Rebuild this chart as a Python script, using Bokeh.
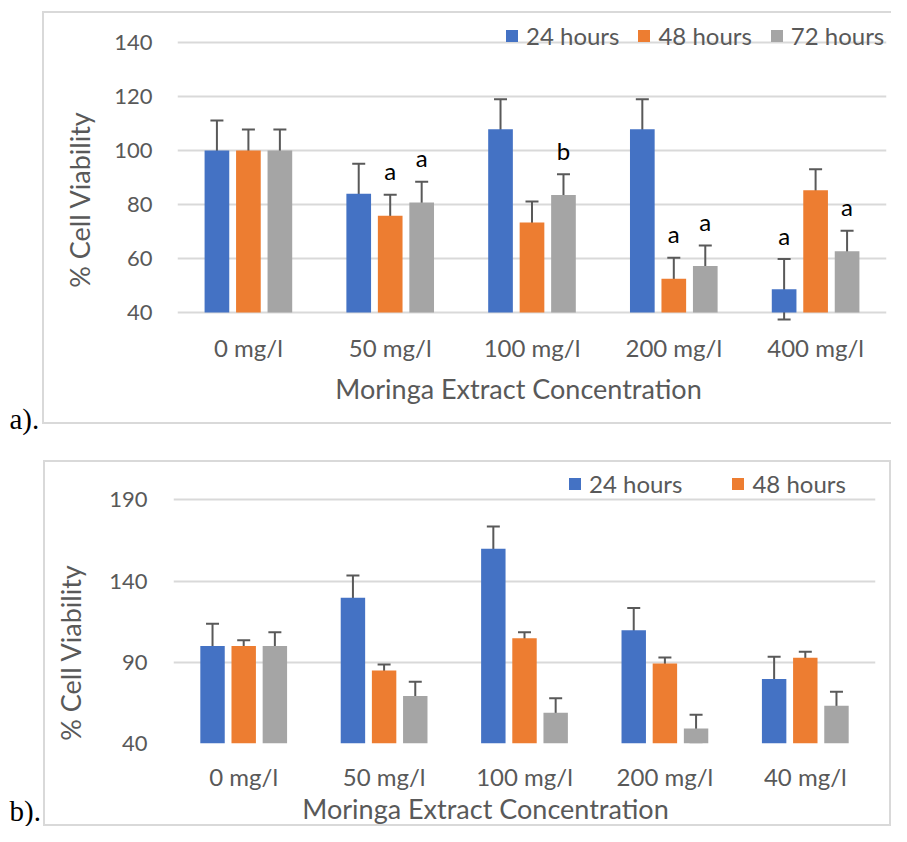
import math
from bokeh.plotting import figure
from bokeh.models import (ColumnDataSource, FactorRange, Range1d, FixedTicker, Whisker, TeeHead,
                          Legend, LegendItem, Label)
from bokeh.transform import dodge
from bokeh.layouts import column, row
from bokeh.embed import file_html
from bokeh.resources import INLINE
from bokeh.core.properties import value

# ---------------- Data: panel a ----------------
cats_a = ["0 mg/l", "50 mg/l", "100 mg/l", "200 mg/l", "400 mg/l"]
a_24 = [100, 84.0, 107.9, 107.9, 48.6]
a_48 = [100, 75.8, 73.3, 52.5, 85.3]
a_72 = [100, 80.7, 83.5, 57.2, 62.7]
a_err_24 = [11.1, 11.1, 11.1, 11.1, 11.2]
a_err_48 = [7.8, 7.8, 7.8, 7.8, 7.8]
a_err_72 = [7.8, 7.7, 7.7, 7.6, 7.6]
a_sig_24 = ["", "", "", "", "a"]
a_sig_48 = ["", "a", "", "a", ""]
a_sig_72 = ["", "a", "b", "a", "a"]
a_yticks = [40, 60, 80, 100, 120, 140]

# ---------------- Data: panel b ----------------
cats_b = ["0 mg/l", "50 mg/l", "100 mg/l", "200 mg/l", "40 mg/l"]
b_24 = [100, 129.8, 159.9, 109.8, 79.7]
b_48 = [100, 85.0, 104.8, 89.3, 92.8]
b_72 = [100, 69.3, 59.0, 49.2, 63.3]
b_err_24 = [13.8, 13.7, 13.7, 13.7, 13.7]
b_err_48 = [3.6, 3.7, 3.7, 3.7, 3.7]
b_err_72 = [8.6, 8.7, 8.8, 8.5, 8.6]
b_sig = ["", "", "", "", ""]
b_yticks = [40, 90, 140, 190]

series_names = ["24 hours", "48 hours", "72 hours"]
colors = ["#4472C4", "#ED7D31", "#A5A5A5"]
offsets = [-0.222, 0.0, 0.222]

TXT = "#595959"
GRID = "#D9D9D9"
FONT = "Lato"
STRIP_W = 100
CHART_W = 791


def box_css(lines):
    g = "linear-gradient(%s, %s)" % (GRID, GRID)
    return {
        "background-image": ", ".join([g] * len(lines)),
        "background-position": ", ".join("%dpx %dpx" % (l[0], l[1]) for l in lines),
        "background-size": ", ".join("%dpx %dpx" % (l[2], l[3]) for l in lines),
        "background-repeat": "no-repeat",
    }


def strip(height, ytitle_xy, tag, tag_xy):
    s = figure(width=STRIP_W, height=height, x_range=Range1d(0, 1), y_range=Range1d(0, 1),
               output_backend="svg", toolbar_location=None, min_border=0,
               x_axis_location=None, y_axis_location=None)
    s.grid.visible = False
    s.outline_line_color = None
    s.background_fill_color = None
    s.border_fill_color = None
    s.add_layout(Label(x=ytitle_xy[0], y=ytitle_xy[1], x_units="canvas", y_units="canvas",
                       text="% Cell Viability", angle=math.pi / 2, text_align="center",
                       text_baseline="middle", text_font=FONT, text_font_size="27px",
                       text_color=TXT))
    s.add_layout(Label(x=tag_xy[0], y=tag_xy[1], x_units="canvas", y_units="canvas",
                       text=tag, text_align="left", text_baseline="middle",
                       text_font="Liberation Serif", text_font_size="29px", text_color="black"),
                 "below")
    return s


def chart(cats, vals, errs, sigs, yr, yticks, height, borders, legend_n, legend_loc,
          legend_spacing, xtitle_xy, ystand, xstand):
    p = figure(width=CHART_W, height=height, x_range=FactorRange(factors=cats),
               y_range=Range1d(*yr), output_backend="svg", toolbar_location=None,
               min_border_left=borders[0], min_border_right=borders[1],
               min_border_top=borders[2], min_border_bottom=borders[3])
    p.outline_line_color = None
    p.background_fill_color = None
    p.border_fill_color = None
    p.xgrid.grid_line_color = None
    p.ygrid.grid_line_color = GRID
    p.ygrid.grid_line_width = 2
    p.yaxis.ticker = FixedTicker(ticks=yticks)
    for ax in (p.xaxis, p.yaxis):
        ax.axis_line_color = None
        ax.major_tick_line_color = None
        ax.minor_tick_line_color = None
        ax.major_tick_out = 0
        ax.major_tick_in = 0
        ax.major_label_text_font = FONT
        ax.major_label_text_color = TXT
    p.yaxis.major_label_text_font_size = "22px"
    p.xaxis.major_label_text_font_size = "24px"
    p.yaxis.major_label_standoff = ystand
    p.xaxis.major_label_standoff = xstand

    renderers = []
    for i in range(len(vals)):
        v = vals[i]
        e = errs[i]
        src = ColumnDataSource(dict(
            cat=cats, val=v,
            upper=[a + b for a, b in zip(v, e)],
            lower=[a - b for a, b in zip(v, e)],
            sig=sigs[i]))
        xd = dodge("cat", offsets[i], range=p.x_range)
        r = p.vbar(x=xd, top="val", bottom=yticks[0], width=0.174, source=src,
                   fill_color=colors[i], line_color=None)
        renderers.append(r)
        wh = Whisker(source=src, base=dodge("cat", offsets[i], range=p.x_range),
                     upper="upper", lower="lower",
                     line_color="#595959", line_width=2,
                     upper_head=TeeHead(size=13, line_color="#595959", line_width=2),
                     lower_head=TeeHead(size=13, line_color="#595959", line_width=2))
        p.add_layout(wh)
        p.text(x=dodge("cat", offsets[i], range=p.x_range), y="upper", text="sig", source=src,
               text_align="center", text_baseline="alphabetic", y_offset=-24,
               text_font=value(FONT), text_font_size="24px", text_color="black")

    items = [LegendItem(label=series_names[i], renderers=[renderers[i]]) for i in range(legend_n)]
    leg = Legend(items=items, orientation="horizontal", location=legend_loc,
                 glyph_width=15, glyph_height=15, label_standoff=7, spacing=legend_spacing,
                 padding=0, margin=0, border_line_color=None, background_fill_alpha=0,
                 label_text_font=FONT, label_text_font_size="24px", label_text_color=TXT)
    p.add_layout(leg)

    p.add_layout(Label(x=xtitle_xy[0], y=xtitle_xy[1], x_units="canvas", y_units="canvas",
                       text="Moringa Extract Concentration", text_align="center",
                       text_baseline="middle", text_font=FONT, text_font_size="27px",
                       text_color=TXT), "below")
    return p


# ---------- panel a ----------
sa = strip(440, ytitle_xy=(79, 199), tag="a).", tag_xy=(9, 418))
ca = chart(cats_a, [a_24, a_48, a_72], [a_err_24, a_err_48, a_err_72],
           [a_sig_24, a_sig_48, a_sig_72],
           yr=(36.3, 148.15), yticks=a_yticks, height=440, borders=(77, 5, 20, 118),
           legend_n=3, legend_loc=(327, 272), legend_spacing=17,
           xtitle_xy=(418, 388), ystand=25, xstand=10)
ra = row(sa, ca, spacing=0,
         styles=box_css([(42, 11, 2, 413), (42, 11, 849, 2), (42, 422, 849, 2)]))

# ---------- panel b ----------
sb = strip(386, ytitle_xy=(70, 212), tag="b).", tag_xy=(9, 370))
cb = chart(cats_b, [b_24, b_48, b_72], [b_err_24, b_err_48, b_err_72],
           [b_sig, b_sig, b_sig],
           yr=(40, 209.4), yticks=b_yticks, height=386, borders=(73, 16, 28, 82),
           legend_n=2, legend_loc=(394, 245), legend_spacing=48,
           xtitle_xy=(385, 368), ystand=26, xstand=18)
rb = row(sb, cb, spacing=0,
         styles=box_css([(43, 20, 2, 366), (43, 20, 848, 2), (43, 384, 848, 2),
                         (889, 20, 2, 366)]))

layout = column(ra, rb, spacing=0)
open("out.html", "w").write(file_html(layout, INLINE))
